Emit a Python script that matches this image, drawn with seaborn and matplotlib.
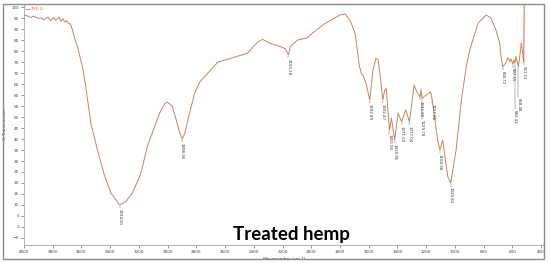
import numpy as np
import pandas as pd
import seaborn as sns
import matplotlib.pyplot as plt
from matplotlib.patches import Rectangle

# FTIR spectrum of treated hemp
wavenumber = [4000, 3986, 3968, 3951, 3934, 3917, 3900, 3882, 3861, 3847, 3833, 3820,
              3813, 3800, 3792, 3780, 3771, 3757, 3743, 3736, 3729, 3715, 3702, 3695,
              3681, 3674, 3662, 3646, 3627, 3611, 3593, 3570, 3535, 3489, 3445, 3396,
              3350, 3334.81, 3292, 3246, 3200, 3180, 3142, 3100, 3055, 3022, 3002,
              2968, 2940, 2918, 2898.95, 2880, 2848, 2812, 2776, 2720, 2650, 2560,
              2445, 2375, 2340, 2285, 2215, 2180, 2159.28, 2145, 2097, 2027, 1995,
              1910, 1800, 1765, 1730, 1695, 1665, 1650, 1640, 1619, 1592.89, 1571,
              1550, 1535, 1514, 1502.47, 1489, 1478, 1455.96, 1442, 1419.95, 1396,
              1371.50, 1342, 1317.04, 1300, 1285, 1265, 1242.80, 1236, 1229.78,
              1170, 1157.88, 1120, 1104.98, 1085, 1050, 1029.83, 992, 955, 921, 897,
              839, 782, 749, 714, 688, 679, 666.72, 644, 631, 619, 610, 597.15,
              589, 582.43, 575, 558.48, 549, 538, 521.12]
transmission = [95.8, 96.4, 95.6, 95.3, 95.9, 95.4, 94.8, 95.1, 94.2, 95.0, 95.4, 94.3,
                93.8, 94.9, 95.2, 94.0, 94.5, 95.4, 93.5, 94.3, 94.6, 93.2, 93.9, 92.8,
                92.5, 91.8, 89.5, 85.5, 82.0, 77.5, 72.9, 63.8, 47.3, 35.0, 24.5, 15.5,
                11.5, 10.0, 11.5, 15.5, 22.0, 26.0, 36.5, 44.0, 51.8, 56.0, 56.8,
                55.0, 48.6, 43.3, 40.0, 42.6, 51.7, 60.8, 66.0, 70.0, 75.0, 76.7,
                79.0, 84.0, 85.3, 83.5, 82.0, 81.0, 78.2, 82.0, 85.0, 86.0, 88.0,
                92.3, 96.4, 96.8, 94.0, 88.0, 73.0, 69.8, 69.0, 65.4, 57.7, 71.4,
                76.7, 76.0, 65.3, 57.7, 62.3, 63.0, 44.0, 49.5, 39.5, 51.8,
                47.9, 53.2, 47.9, 56.3, 64.5, 61.5, 59.2, 62.5, 58.5,
                61.5, 57.7, 39.5, 35.0, 39.5, 22.9, 19.9, 35.0, 57.7, 72.9, 80.5,
                92.7, 96.4, 95.0, 89.5, 83.5, 77.3, 72.7, 75.0, 77.0, 75.2, 76.5, 74.0,
                76.0, 74.5, 77.5, 72.9, 77.5, 83.6, 75.0]

# last rise of the trace, drawn in red and running off the top
tail_wn = [521.12, 516]
tail_t = [75.0, 115.0]

# labelled minima
peak_wn = [3334.81, 2898.95, 2159.28, 1592.89, 1502.47, 1455.96, 1419.95, 1371.50,
           1317.04, 1242.80, 1229.78, 1157.88, 1104.98, 1029.83, 666.72, 597.15,
           582.43, 558.48, 521.12]
peak_lead = [1.5, 1.5, 1.5, 1.5, 1.5, 1.5, 1.5, 1.5, 1.5, 1.5, 9.5, 1.5, 1.5, 1.5,
             1.5, 1.5, 21, 14, 1.5]

df = pd.DataFrame({"wn": wavenumber, "T": transmission})
tail = pd.DataFrame({"wn": tail_wn, "T": tail_t})

sns.set_style("white")
plt.rcParams["font.family"] = ["DejaVu Sans"]

fig = plt.figure(figsize=(5.5, 2.63), dpi=100)
ax = fig.add_axes([24 / 550, 1 - 245 / 263, (544 - 24) / 550, (245 - 4) / 263])

sns.lineplot(data=df, x="wn", y="T", ax=ax, color="#c4865c", lw=0.7,
             estimator=None, sort=False)
sns.lineplot(data=tail, x="wn", y="T", ax=ax, color="#ee5a4a", lw=0.7,
             estimator=None, sort=False)

order = np.argsort(wavenumber)
xs = np.array(wavenumber)[order]
ys = np.array(transmission)[order]
for wn, lead in zip(peak_wn, peak_lead):
    yv = np.interp(wn, xs, ys)
    ax.plot([wn, wn], [yv - 0.3, yv - lead], color="#555555", lw=0.3)
    ax.text(wn, yv - lead - 0.3, f"{wn:.2f}", rotation=270, ha="center", va="top",
            fontsize=2.8, color="#333333")

ax.set_xlim(4000, 380)
ax.set_ylim(-8.2, 101.4)
ax.set_xticks(np.arange(4000, 399, -200))
ax.set_xticks(np.arange(4000, 379, -50), minor=True)
ax.set_yticks(np.arange(-5, 101, 5))
ax.tick_params(axis="both", which="major", labelsize=3, length=2, width=0.4,
               pad=1.5, colors="#444444", direction="out")
ax.tick_params(axis="x", which="minor", length=1, width=0.3, colors="#777777")
ax.tick_params(bottom=True, left=True, which="both")
ax.set_xlabel("Wavenumber (cm-1)", fontsize=3, labelpad=2, color="#333333")
ax.set_ylabel("% Transmission", fontsize=3, labelpad=3, color="#333333")
for side in ["top", "right"]:
    ax.spines[side].set_visible(False)
for side in ["left", "bottom"]:
    ax.spines[side].set_color("#999999")
    ax.spines[side].set_linewidth(0.5)

# legend entry at the top left
ax.plot([3990, 3960], [99.2, 99.2], color="#ee5a4a", lw=0.5)
ax.text(3955, 99.2, "TH1(1)", fontsize=3, color="#ee5a4a", va="center")

fig.text(291 / 550, 1 - 240 / 263, "Treated hemp", ha="center", va="baseline",
         fontsize=13.5, fontweight="bold", family=["Lato", "DejaVu Sans"], color="black")

fig.patches.append(Rectangle((3 / 550, 1 - 259 / 263), (544 - 3) / 550, (259 - 4) / 263,
                             transform=fig.transFigure, fill=False,
                             edgecolor="#8a8a8a", lw=1.0))

fig.savefig("out.png", dpi=100)
